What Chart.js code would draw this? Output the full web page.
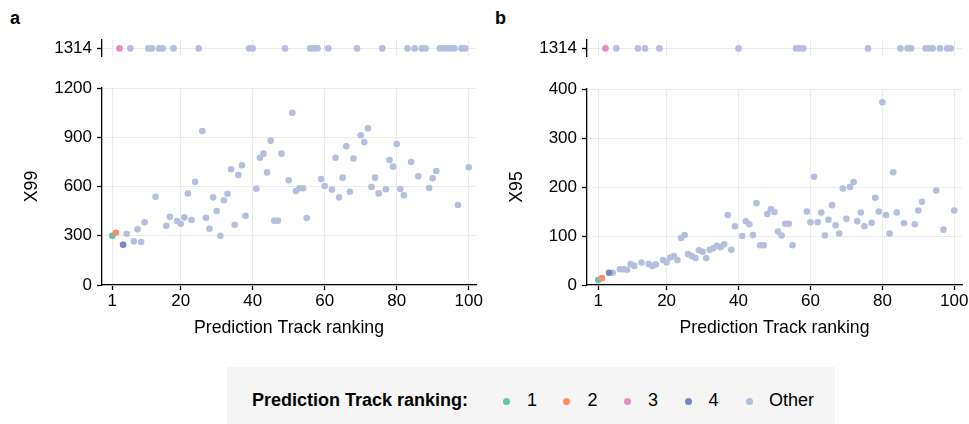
<!DOCTYPE html>
<html><head><meta charset="utf-8">
<script src="https://cdn.jsdelivr.net/npm/chart.js@4.4.1/dist/chart.umd.min.js"></script>
<style>
html,body{margin:0;padding:0;background:#fff;overflow:hidden;}
body{width:969px;height:424px;position:relative;font-family:'Liberation Sans',Arial,sans-serif;}
canvas{position:absolute;}
.lab{position:absolute;font-weight:bold;font-size:18px;line-height:18px;color:#000;}
#legend{position:absolute;left:227px;top:367px;width:608px;height:57px;background:#f5f5f5;}
#legend span{position:absolute;font-size:18px;line-height:20px;color:#000;white-space:nowrap;}
#legend .lt{font-weight:bold;}
#legend .dot{position:absolute;width:7px;height:7px;border-radius:50%;}
</style></head><body>
<div class="lab" style="left:10px;top:9px">a</div>
<div class="lab" style="left:495px;top:9px">b</div>
<canvas id="sa" width="488" height="48" style="left:0;top:24px;width:488px;height:48px"></canvas>
<canvas id="ma" width="488" height="278" style="left:0;top:72px;width:488px;height:278px"></canvas>
<canvas id="sb" width="494" height="48" style="left:480px;top:24px;width:494px;height:48px"></canvas>
<canvas id="mb" width="494" height="278" style="left:480px;top:72px;width:494px;height:278px"></canvas>
<div id="legend"></div>
<script>
// ---- data ----
const categories = ['1', '2', '3', '4', 'Other'];
const categoryColors = ['#66c2a5', '#fc8d62', '#e78ac3', '#7387c2', '#b4bfe0'];
const legendTitle = 'Prediction Track ranking:';
const xTitle = 'Prediction Track ranking';
const xTickLabels = [1, 20, 40, 60, 80, 100];
const x99TickLabels = [0, 300, 600, 900, 1200];
const x95TickLabels = [0, 100, 200, 300, 400];
const missingValue = 1314;

const x99Ranks = [1, 2, 4, 5, 7, 8, 9, 10, 13, 16, 17, 19, 20, 21, 22, 23, 24, 26, 27, 28, 29, 30, 31, 32, 33, 34, 35, 36, 37, 38, 41, 42, 43, 44, 45, 46, 47, 48, 50, 51, 52, 53, 54, 55, 59, 60, 62, 63, 64, 65, 66, 67, 68, 70, 71, 72, 73, 74, 75, 77, 78, 79, 80, 81, 82, 84, 86, 89, 90, 91, 97, 100];
const x99Values = [300, 318, 245, 312, 266, 339, 262, 382, 538, 361, 416, 390, 373, 412, 558, 396, 629, 938, 410, 343, 534, 451, 300, 516, 556, 705, 367, 670, 729, 422, 587, 775, 800, 686, 879, 392, 392, 800, 638, 1049, 572, 589, 589, 408, 645, 603, 581, 775, 534, 654, 845, 568, 771, 912, 871, 954, 597, 654, 558, 583, 761, 721, 859, 585, 546, 749, 662, 591, 650, 694, 487, 717];
const x99MissingRanks = [3, 6, 11, 12, 14, 15, 18, 25, 39, 40, 49, 56, 57, 58, 61, 69, 76, 83, 85, 87, 88, 92, 93, 94, 95, 96, 98, 99];

const x95Ranks = [1, 2, 4, 5, 7, 8, 9, 10, 11, 13, 15, 16, 17, 19, 20, 21, 22, 23, 24, 25, 26, 27, 28, 29, 30, 31, 32, 33, 34, 35, 36, 37, 38, 39, 41, 42, 43, 44, 45, 46, 47, 48, 49, 50, 51, 52, 53, 54, 55, 59, 60, 61, 62, 63, 64, 65, 66, 67, 68, 69, 70, 71, 72, 73, 74, 75, 77, 78, 79, 80, 81, 82, 83, 84, 86, 89, 90, 91, 95, 97, 100];
const x95Values = [10, 14, 25, 25, 32, 32, 31, 43, 39, 46, 43, 39, 42, 51, 46, 56, 59, 51, 96, 102, 63, 59, 55, 71, 68, 55, 72, 75, 80, 77, 83, 143, 72, 120, 100, 130, 124, 102, 167, 81, 81, 145, 155, 149, 109, 101, 125, 125, 81, 150, 128, 221, 128, 148, 101, 133, 163, 122, 105, 197, 135, 200, 210, 130, 148, 120, 127, 178, 150, 373, 143, 105, 230, 148, 126, 124, 152, 170, 193, 113, 152];
const x95MissingRanks = [3, 6, 12, 14, 18, 40, 56, 57, 58, 76, 85, 87, 88, 92, 93, 94, 96, 98, 99];

// ---- helpers ----
Chart.defaults.font.family = "'Liberation Sans', Arial, sans-serif";
Chart.defaults.color = '#000';

function categoryOf(rank) { return rank <= 4 ? String(rank) : 'Other'; }

function buildDatasets(ranks, values) {
  return categories.map((c, i) => ({
    label: c,
    data: ranks.map((r, j) => ({ x: r, y: values[j] })).filter(p => categoryOf(p.x) === c),
    backgroundColor: categoryColors[i],
    pointRadius: 3.3, pointHoverRadius: 3.3, pointBorderWidth: 0, borderWidth: 0,
    order: c === 'Other' ? 10 : 4 - i
  }));
}

const gridCol = '#ebebeb';

function xScale(min, max, main) {
  const s = {
    type: 'linear', position: 'bottom', min: min, max: max,
    afterBuildTicks: sc => { sc.ticks = xTickLabels.map(v => ({ value: v })); },
    grid: { color: gridCol, lineWidth: 1, tickColor: '#000', tickLength: 5, tickWidth: 1.3 },
    border: { color: '#000', width: 1.3 },
    ticks: { font: { size: 17 }, padding: 1, maxRotation: 0, autoSkip: false, color: '#000', callback: v => String(v) }
  };
  if (main) {
    s.afterFit = sc => { sc.height = 65; };
    s.title = { display: true, text: xTitle, color: '#000', font: { size: 17.7 }, padding: { top: 0, bottom: 11.5 } };
  } else {
    s.afterFit = sc => { sc.height = 0; };
    s.ticks = { display: false };
    s.grid = { color: gridCol, lineWidth: 1, drawTicks: false };
    s.border = { display: false };
  }
  return s;
}

function yScale(min, max, tickVals, width, title, titlePad) {
  const s = {
    type: 'linear', position: 'left', min: min, max: max,
    afterBuildTicks: sc => { sc.ticks = tickVals.map(v => ({ value: v })); },
    afterFit: sc => { sc.width = width; },
    grid: { color: gridCol, lineWidth: 1, tickColor: '#000', tickLength: 5, tickWidth: 1.3 },
    border: { color: '#000', width: 1.3 },
    ticks: { font: { size: 17 }, padding: 5, color: '#000', callback: v => String(v) }
  };
  if (title) {
    s.title = { display: true, text: title, color: '#000', font: { size: 17.7 }, padding: { top: titlePad, bottom: 0 } };
  }
  return s;
}

function makeChart(id, datasets, padding, x, y) {
  return new Chart(document.getElementById(id), {
    type: 'scatter',
    data: { datasets: datasets },
    options: {
      responsive: false, animation: false, events: [],
      layout: { padding: padding },
      plugins: { legend: { display: false }, tooltip: { enabled: false } },
      scales: { x: x, y: y }
    }
  });
}

// panel a
makeChart('sa', buildDatasets(x99MissingRanks, x99MissingRanks.map(() => missingValue)),
  { top: 16, right: 12, bottom: 15, left: 0 },
  xScale(-1.86, 102.03, false),
  yScale(missingValue - 1, missingValue + 1, [missingValue], 102, null, 0));
makeChart('ma', buildDatasets(x99Ranks, x99Values),
  { top: 16, right: 12, bottom: 0, left: 0 },
  xScale(-1.86, 102.03, true),
  yScale(0, 1200, x99TickLabels, 102, 'X99', 21.2));

// panel b
makeChart('sb', buildDatasets(x95MissingRanks, x95MissingRanks.map(() => missingValue)),
  { top: 16, right: 12, bottom: 15, left: 0 },
  xScale(-2.14, 102.14, false),
  yScale(missingValue - 1, missingValue + 1, [missingValue], 107, null, 0));
makeChart('mb', buildDatasets(x95Ranks, x95Values),
  { top: 17, right: 12, bottom: 0, left: 0 },
  xScale(-2.14, 102.14, true),
  yScale(0, 400, x95TickLabels, 107, 'X95', 26.5));

// legend
const legend = document.getElementById('legend');
const lt = document.createElement('span');
lt.className = 'lt'; lt.textContent = legendTitle;
lt.style.left = '25px'; lt.style.top = '23.3px';
legend.appendChild(lt);
categories.forEach((c, i) => {
  const d = document.createElement('div');
  d.className = 'dot';
  d.style.background = categoryColors[i];
  d.style.left = (279 + i * 60.75 - 3.5) + 'px';
  d.style.top = '30.5px';
  legend.appendChild(d);
  const s = document.createElement('span');
  s.textContent = c;
  s.style.left = (300 + i * 60.5) + 'px';
  s.style.top = '23.3px';
  legend.appendChild(s);
});
</script>
</body></html>
